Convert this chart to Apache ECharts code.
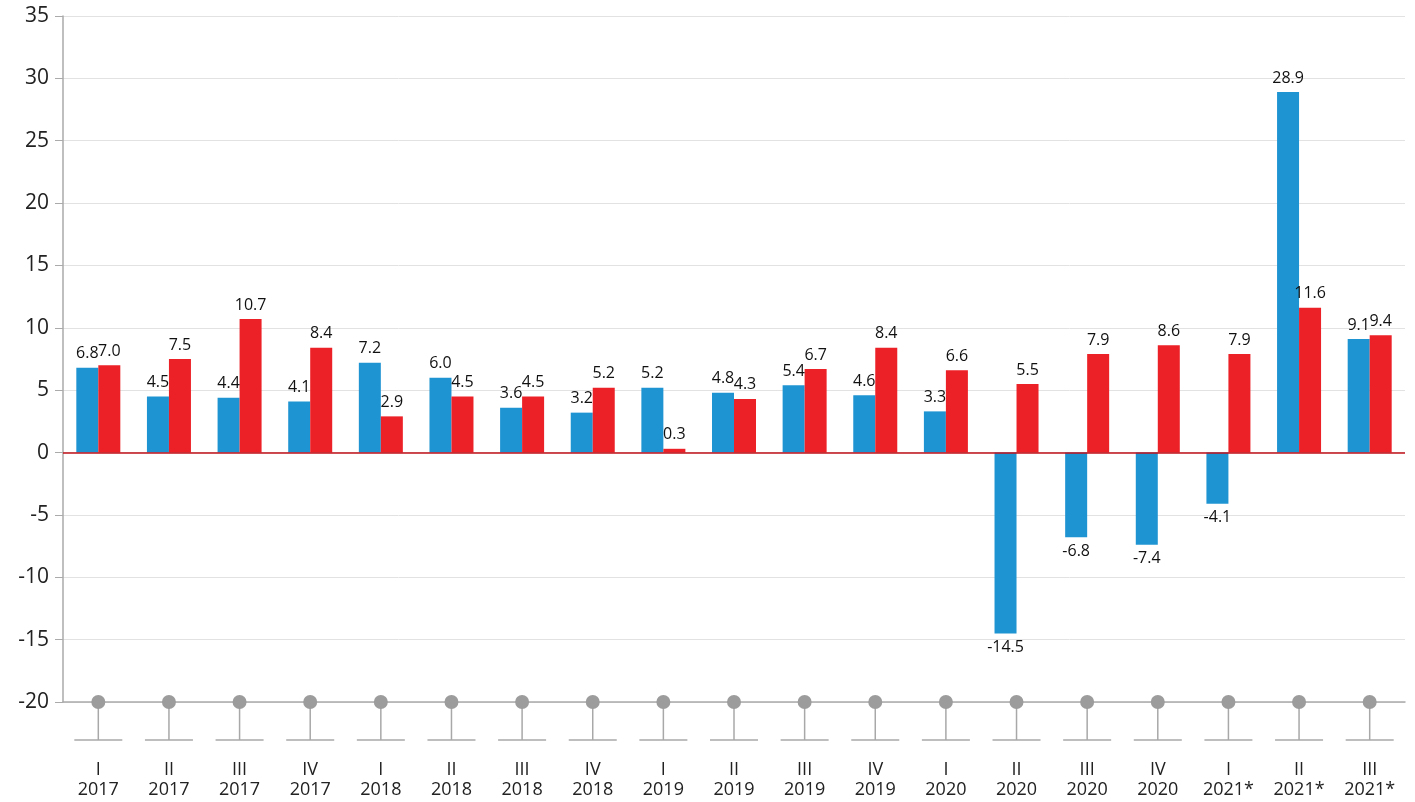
<!DOCTYPE html>
<html><head><meta charset="utf-8">
<script src="https://cdn.jsdelivr.net/npm/echarts@6/dist/echarts.min.js"></script>
<style>html,body{margin:0;padding:0;background:#fff}#c{width:1415px;height:802px}</style>
</head><body><div id="c"></div>
<script>
var categories = ['I\n2017','II\n2017','III\n2017','IV\n2017','I\n2018','II\n2018','III\n2018','IV\n2018','I\n2019','II\n2019','III\n2019','IV\n2019','I\n2020','II\n2020','III\n2020','IV\n2020','I\n2021*','II\n2021*','III\n2021*'];
var blueValues = [6.8,4.5,4.4,4.1,7.2,6.0,3.6,3.2,5.2,4.8,5.4,4.6,3.3,-14.5,-6.8,-7.4,-4.1,28.9,9.1];
var redValues = [7.0,7.5,10.7,8.4,2.9,4.5,4.5,5.2,0.3,4.3,6.7,8.4,6.6,5.5,7.9,8.6,7.9,11.6,9.4];
var yMin = -20, yMax = 35, yStep = 5;

var font = '"Open Sans","Noto Sans",sans-serif';
var chart = echarts.init(document.getElementById('c'));

function barLabel() {
  return {
    show: true, position: 'top', distance: 6, color: '#111', fontSize: 16, fontFamily: font,
    formatter: function (p) { return p.value.toFixed(1); }
  };
}
function toData(arr) {
  return arr.map(function (v) {
    return v < 0 ? { value: v, label: { position: 'bottom' } } : v;
  });
}

chart.setOption({
  animation: false,
  grid: { left: 63, right: 10, top: 16, bottom: 100, outerBoundsMode: 'none', containLabel: false },
  xAxis: {
    type: 'category', data: categories, position: 'bottom',
    axisLine: { onZero: false, lineStyle: { color: '#aaa', width: 1.5 } },
    axisTick: { show: false },
    axisLabel: { margin: 58, color: '#222', fontSize: 18, fontFamily: font, lineHeight: 20 }
  },
  yAxis: {
    type: 'value', min: yMin, max: yMax, interval: yStep,
    axisLine: { show: true, lineStyle: { color: '#aaa', width: 1.5 } },
    axisTick: { show: true, length: 8, lineStyle: { color: '#aaa' } },
    axisLabel: { color: '#222', fontSize: 21, fontFamily: font, margin: 14 },
    splitLine: { lineStyle: { color: '#e2e2e2', width: 1 } }
  },
  series: [
    {
      type: 'bar', data: toData(blueValues), barWidth: 22, barGap: '0%',
      itemStyle: { color: '#1f94d2' }, label: barLabel(),
      markLine: {
        silent: true, symbol: 'none', label: { show: false },
        lineStyle: { color: '#c0101a', type: 'solid', width: 1.5 },
        data: [{ yAxis: 0 }]
      }
    },
    {
      type: 'bar', data: toData(redValues), barWidth: 22,
      itemStyle: { color: '#ec2027' }, label: barLabel()
    },
    {
      type: 'custom', silent: true, clip: false, z: 5,
      data: categories.map(function (c, i) { return [i, yMin]; }),
      renderItem: function (params, api) {
        var p = api.coord([api.value(0), api.value(1)]);
        var st = { stroke: '#a8a8a8', lineWidth: 1.5 };
        return {
          type: 'group', children: [
            { type: 'line', shape: { x1: p[0], y1: p[1], x2: p[0], y2: p[1] + 38 }, style: st },
            { type: 'line', shape: { x1: p[0] - 24, y1: p[1] + 38, x2: p[0] + 24, y2: p[1] + 38 }, style: st },
            { type: 'circle', shape: { cx: p[0], cy: p[1], r: 7 }, style: { fill: '#9c9c9c' } }
          ]
        };
      }
    }
  ]
});
</script></body></html>
